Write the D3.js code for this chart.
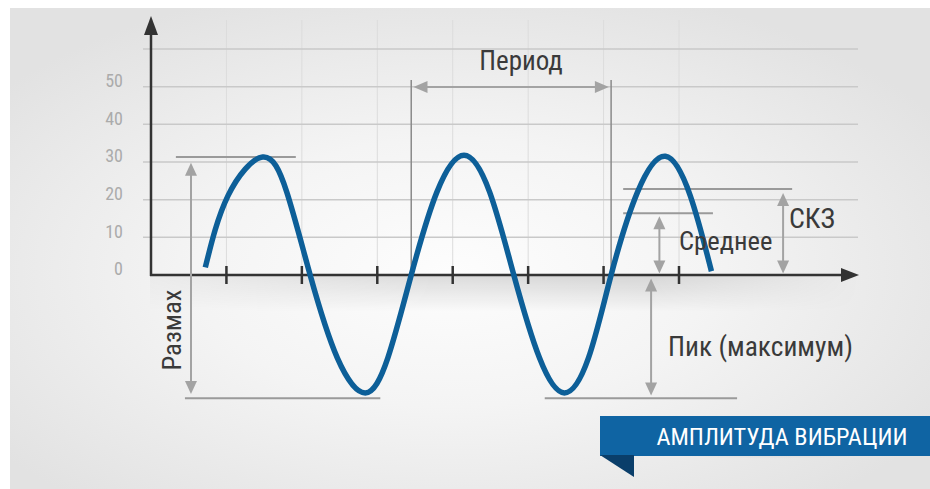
<!DOCTYPE html>
<html><head><meta charset="utf-8">
<script src="https://cdn.jsdelivr.net/npm/d3@7"></script>
<style>
html,body{margin:0;padding:0;background:#fff;}
svg{display:block;}
text{font-family:'Liberation Sans Narrow','Roboto Condensed','DejaVu Sans Condensed',sans-serif;}
</style></head>
<body><svg id="c" width="930" height="489"></svg>
<script>
// ---- data ----
const yTickValues = [0, 10, 20, 30, 40, 50];
const gridValues = [10, 20, 30, 40, 50, 60];
const xTickValues = [1, 2, 3, 4, 5, 6, 7];
const waveT = [0.72, 1.02, 1.48, 1.80, 2.11, 2.47, 2.84, 3.14, 3.45, 3.79, 4.15, 4.49, 4.81, 5.15, 5.48, 5.80, 6.10, 6.45, 6.82, 7.15, 7.43];
const waveV = [2, 21, 31.3, 22, 0, -22, -31.3, -22, 0, 22, 31.8, 22, 0, -22, -31.3, -22, 0, 22, 31.5, 21, 1];
const periodBounds = [3.45, 6.10];
const peakLevel = 31.3;
const troughLevel = -32.7;
const rmsLevel = 22.8;
const meanLevel = 16.4;
const labels = ["Период", "Размах", "Пик (максимум)", "СКЗ", "Среднее"];
const bannerText = "АМПЛИТУДА ВИБРАЦИИ";

// ---- setup ----
const svg = d3.select("#c");
const W = 930, H = 489;
const x = d3.scaleLinear().domain([0, 7]).range([151, 679]);
const y = d3.scaleLinear().domain([0, 60]).range([275, 49]);
const defs = svg.append("defs");

// background
const rg = defs.append("radialGradient").attr("id", "bg").attr("cx", "0.48").attr("cy", "0.55").attr("r", "0.62");
rg.append("stop").attr("offset", "0").attr("stop-color", "#fdfdfd");
rg.append("stop").attr("offset", "0.45").attr("stop-color", "#f4f4f4");
rg.append("stop").attr("offset", "1").attr("stop-color", "#e2e2e2");
svg.append("rect").attr("x", 10).attr("y", 8).attr("width", W - 10).attr("height", H - 8).attr("fill", "url(#bg)");

// shadow below x axis
const sg = defs.append("linearGradient").attr("id", "sh").attr("x1", 0).attr("y1", 0).attr("x2", 0).attr("y2", 1);
sg.append("stop").attr("offset", 0).attr("stop-color", "#000").attr("stop-opacity", 0.13);
sg.append("stop").attr("offset", 1).attr("stop-color", "#000").attr("stop-opacity", 0);
const sgm = defs.append("linearGradient").attr("id", "shm").attr("x1", 0).attr("x2", 1);
sgm.append("stop").attr("offset", 0).attr("stop-color", "#fff").attr("stop-opacity", 0.2);
sgm.append("stop").attr("offset", 0.4).attr("stop-color", "#fff").attr("stop-opacity", 1);
sgm.append("stop").attr("offset", 0.7).attr("stop-color", "#fff").attr("stop-opacity", 1);
sgm.append("stop").attr("offset", 1).attr("stop-color", "#fff").attr("stop-opacity", 0);
defs.append("mask").attr("id", "shmask").append("rect")
  .attr("x", 150).attr("y", 275).attr("width", 710).attr("height", 40).attr("fill", "url(#shm)");
svg.append("rect").attr("x", 150).attr("y", 276).attr("width", 710).attr("height", 36)
  .attr("fill", "url(#sh)").attr("mask", "url(#shmask)");

// vertical faint gridlines
svg.append("g").selectAll("line").data(xTickValues).join("line")
  .attr("x1", d => x(d)).attr("x2", d => x(d)).attr("y1", 20).attr("y2", y(0))
  .attr("stroke", "#dcdcdc").attr("stroke-width", 1);

// horizontal gridlines
svg.append("g").selectAll("line").data(gridValues).join("line")
  .attr("x1", 143).attr("x2", 858).attr("y1", d => y(d)).attr("y2", d => y(d))
  .attr("stroke", "#c9c9c9").attr("stroke-width", 1.5);

// y tick labels
svg.append("g").selectAll("text").data(yTickValues).join("text")
  .attr("x", 123).attr("y", d => y(d) - 6).attr("dy", "0.35em")
  .attr("text-anchor", "end").attr("font-size", 18).attr("fill", "#ababab")
  .text(d => d);

// axes
const axisCol = "#333";
svg.append("line").attr("x1", 151).attr("x2", 151).attr("y1", y(0) + 1).attr("y2", 32)
  .attr("stroke", axisCol).attr("stroke-width", 2.5);
svg.append("path").attr("d", "M151,16 L144,35 L158,35 Z").attr("fill", axisCol);
svg.append("line").attr("x1", 150).attr("x2", 845).attr("y1", y(0)).attr("y2", y(0))
  .attr("stroke", axisCol).attr("stroke-width", 2.5);
svg.append("path").attr("d", `M859,${y(0)} L841,${y(0) - 7} L841,${y(0) + 7} Z`).attr("fill", axisCol);

// x ticks
svg.append("g").selectAll("line").data(xTickValues).join("line")
  .attr("x1", d => x(d)).attr("x2", d => x(d)).attr("y1", y(0) - 9).attr("y2", y(0) + 9)
  .attr("stroke", axisCol).attr("stroke-width", 2.5);

// annotation helpers
const gray = "#9a9a9a";
const arrowCol = "#a3a3a3";
function hline(t1, t2, v, col) {
  svg.append("line").attr("x1", x(t1)).attr("x2", x(t2)).attr("y1", y(v)).attr("y2", y(v))
    .attr("stroke", col || gray).attr("stroke-width", 2);
}
function vline(t, v1, v2) {
  svg.append("line").attr("x1", x(t)).attr("x2", x(t)).attr("y1", y(v1)).attr("y2", y(v2))
    .attr("stroke", "#8a8a8a").attr("stroke-width", 1.5);
}
function vArrow(t, v1, v2) {
  const px = x(t), ya = y(v1), yb = y(v2);
  const hl = 13, hw = 6;
  svg.append("line").attr("x1", px).attr("x2", px).attr("y1", ya + hl - 2).attr("y2", yb - hl + 2)
    .attr("stroke", arrowCol).attr("stroke-width", 2);
  svg.append("path").attr("d", `M${px},${ya} L${px - hw},${ya + hl} L${px + hw},${ya + hl} Z`).attr("fill", arrowCol);
  svg.append("path").attr("d", `M${px},${yb} L${px - hw},${yb - hl} L${px + hw},${yb - hl} Z`).attr("fill", arrowCol);
}
function hArrow(t1, t2, v) {
  const xa = x(t1), xb = x(t2), py = y(v);
  const hl = 14, hw = 6;
  svg.append("line").attr("x1", xa + hl - 2).attr("x2", xb - hl + 2).attr("y1", py).attr("y2", py)
    .attr("stroke", arrowCol).attr("stroke-width", 2);
  svg.append("path").attr("d", `M${xa},${py} L${xa + hl},${py - hw} L${xa + hl},${py + hw} Z`).attr("fill", arrowCol);
  svg.append("path").attr("d", `M${xb},${py} L${xb - hl},${py - hw} L${xb - hl},${py + hw} Z`).attr("fill", arrowCol);
}

// Period
vline(periodBounds[0], 0, 51.8);
vline(periodBounds[1], 0, 51.8);
hArrow(periodBounds[0] + 0.03, periodBounds[1] - 0.03, 49.9);

// Range (Размах)
hline(0.33, 1.92, peakLevel);
hline(0.45, 3.04, troughLevel);
vArrow(0.53, 29.8, -31.6);

// Peak (Пик)
hline(5.22, 7.77, troughLevel);
vArrow(6.63, -0.9, -32.0);

// RMS and mean
hline(6.26, 8.5, rmsLevel);
hline(6.26, 7.45, meanLevel);
vArrow(8.38, 21.8, 0.4);
vArrow(6.74, 15.6, 0.4);

// wave
const pts = waveT.map((t, i) => [t, waveV[i]]);
svg.append("path").datum(pts)
  .attr("d", d3.line().x(d => x(d[0])).y(d => y(d[1])).curve(d3.curveNatural))
  .attr("fill", "none").attr("stroke", "#0d5f98").attr("stroke-width", 5.5).attr("stroke-linecap", "butt");

// labels
const tc = "#3a3a3a";
svg.append("text").attr("x", 521).attr("y", 70).attr("text-anchor", "middle")
  .attr("font-size", 27).attr("fill", tc).text(labels[0]);
svg.append("text").attr("transform", `translate(${181},${330}) rotate(-90)`).attr("text-anchor", "middle")
  .attr("font-size", 26.7).attr("fill", tc).text(labels[1]);
svg.append("text").attr("x", 668).attr("y", 356)
  .attr("font-size", 27.4).attr("fill", tc).text(labels[2]);
svg.append("text").attr("x", 789).attr("y", 228)
  .attr("font-size", 28).attr("fill", tc).text(labels[3]);
svg.append("text").attr("x", 679).attr("y", 250)
  .attr("font-size", 26.6).attr("fill", tc).text(labels[4]);

// banner
const bs = defs.append("radialGradient").attr("id", "bsh").attr("cx", 0.5).attr("cy", 0).attr("r", 0.6);
bs.append("stop").attr("offset", 0).attr("stop-color", "#000").attr("stop-opacity", 0.22);
bs.append("stop").attr("offset", 1).attr("stop-color", "#000").attr("stop-opacity", 0);
svg.append("ellipse").attr("cx", 770).attr("cy", 456).attr("rx", 150).attr("ry", 14).attr("fill", "url(#bsh)");
svg.append("rect").attr("x", 600).attr("y", 416).attr("width", 330).attr("height", 40).attr("fill", "#0f64a3");
svg.append("path").attr("d", "M600,455 L634,455 L634,477 Z").attr("fill", "#0a3e6a");
svg.append("text").attr("x", 782).attr("y", 445).attr("text-anchor", "middle")
  .attr("font-size", 24.3).attr("fill", "#ffffff").text(bannerText);
</script></body></html>
